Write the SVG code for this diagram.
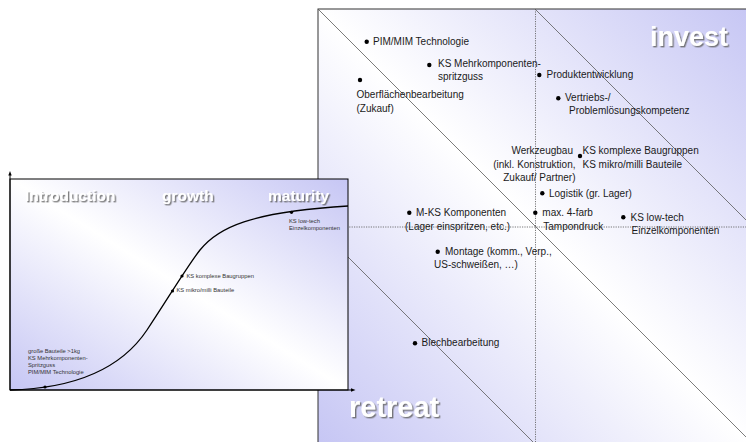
<svg xmlns="http://www.w3.org/2000/svg" width="746" height="442" viewBox="0 0 746 442">
<defs>
<linearGradient id="gR" x1="1" y1="0" x2="0" y2="1">
<stop offset="0" stop-color="#c6c6f4"/>
<stop offset="0.5" stop-color="#ffffff"/>
<stop offset="1" stop-color="#c6c6f4"/>
</linearGradient>
<linearGradient id="gL" x1="1" y1="0" x2="0" y2="1">
<stop offset="0" stop-color="#c6c6f4"/>
<stop offset="0.5" stop-color="#ffffff"/>
<stop offset="1" stop-color="#c6c6f4"/>
</linearGradient>
<filter id="sh" x="-10%" y="-30%" width="130%" height="170%">
<feDropShadow dx="1.4" dy="1.4" stdDeviation="0.6" flood-color="#666666" flood-opacity="0.85"/>
</filter>
<style>
.t{font-family:"Liberation Sans",Arial,sans-serif;font-size:10px;fill:#1a1a1a}
.s{font-family:"Liberation Sans",Arial,sans-serif;font-size:5.8px;fill:#333}
.big{font-family:"Liberation Sans",Arial,sans-serif;font-weight:bold;fill:#ffffff;filter:url(#sh)}
.dot{fill:#000}
.diag{stroke:#5a5a5a;stroke-width:0.8;fill:none}
.dotted{stroke:#555;stroke-width:0.8;stroke-dasharray:1.2,1.2;fill:none}
</style>
</defs>

<g id="portfolio">
<rect x="318" y="9" width="434" height="435" fill="url(#gR)" stroke="#333" stroke-width="1"/>
</g>

<g id="connectors">
<line class="dotted" x1="535.5" y1="9" x2="535.5" y2="442"/>
<line class="dotted" x1="318" y1="227" x2="746" y2="227"/>
<line class="diag" x1="318" y1="9" x2="752" y2="443"/>
<line class="diag" x1="535" y1="9" x2="752" y2="226"/>
<line class="diag" x1="318" y1="227" x2="535" y2="444"/>
</g>

<g id="label-invest"><text class="big" x="650" y="46" font-size="27">invest</text></g>
<g id="label-retreat"><text class="big" x="349" y="417" font-size="29">retreat</text></g>

<g id="n-pim"><circle class="dot" cx="366.7" cy="41.7" r="2.2"/><text class="t" x="373" y="45">PIM/MIM Technologie</text></g>
<g id="n-mehrkomp"><circle class="dot" cx="429.3" cy="65" r="2.2"/><text class="t" x="438" y="66.5">KS Mehrkomponenten-</text><text class="t" x="438" y="80">spritzguss</text></g>
<g id="n-oberfl"><circle class="dot" cx="360" cy="80" r="2.2"/><text class="t" x="356.5" y="98">Oberflächenbearbeitung</text><text class="t" x="356.5" y="111.5">(Zukauf)</text></g>
<g id="n-produkt"><circle class="dot" cx="539.3" cy="75" r="2.2"/><text class="t" x="546.5" y="78">Produktentwicklung</text></g>
<g id="n-vertrieb"><circle class="dot" cx="558.3" cy="98.3" r="2.2"/><text class="t" x="565" y="101">Vertriebs-/</text><text class="t" x="569" y="114">Problemlösungskompetenz</text></g>
<g id="n-werkzeug"><text class="t" x="573" y="154" text-anchor="end">Werkzeugbau</text><text class="t" x="575.5" y="167.5" text-anchor="end">(inkl. Konstruktion,</text><text class="t" x="575.5" y="180.5" text-anchor="end">Zukauf/ Partner)</text></g>
<g id="n-komplex"><circle class="dot" cx="580" cy="156" r="2.2"/><text class="t" x="582.5" y="153.5">KS komplexe Baugruppen</text><text class="t" x="582.5" y="167.5">KS mikro/milli Bauteile</text></g>
<g id="n-logistik"><circle class="dot" cx="542.3" cy="193.3" r="2.2"/><text class="t" x="549" y="196.5">Logistik (gr. Lager)</text></g>
<g id="n-mks"><circle class="dot" cx="409.3" cy="212.7" r="2.2"/><text class="t" x="416" y="216">M-KS Komponenten</text><text class="t" x="405" y="229.5">(Lager einspritzen, etc.)</text></g>
<g id="n-tampon"><circle class="dot" cx="535.3" cy="212.7" r="2.2"/><text class="t" x="542.3" y="216">max. 4-farb</text><text class="t" x="543.3" y="229.5">Tampondruck</text></g>
<g id="n-lowtech"><circle class="dot" cx="623.3" cy="217.3" r="2.2"/><text class="t" x="630.5" y="220.5">KS low-tech</text><text class="t" x="631.5" y="234">Einzelkomponenten</text></g>
<g id="n-montage"><circle class="dot" cx="437.7" cy="251.7" r="2.2"/><text class="t" x="445" y="254.5">Montage (komm., Verp.,</text><text class="t" x="434" y="267.5">US-schweißen, …)</text></g>
<g id="n-blech"><circle class="dot" cx="415" cy="343.3" r="2.2"/><text class="t" x="421.5" y="346">Blechbearbeitung</text></g>

<g id="lifecycle">
<rect x="10" y="179" width="338" height="211" fill="url(#gL)" stroke="#000" stroke-width="1"/>
<line x1="10" y1="390" x2="10" y2="174" stroke="#000" stroke-width="1"/>
<polygon points="10,171 8.3,175.5 11.7,175.5" fill="#000"/>
<line x1="10" y1="390" x2="352" y2="390" stroke="#000" stroke-width="1"/>
<polygon points="355.5,390 351,388.3 351,391.7" fill="#000"/>
<text class="big" x="25" y="201" font-size="15.5">Introduction</text>
<text class="big" x="162" y="201" font-size="15.5">growth</text>
<text class="big" x="268" y="201" font-size="15.5">maturity</text>
<path d="M10,390 C90,388 127,360 147,330 C167,300 188,265 200,250 C218,227.5 250,212 348,206" fill="none" stroke="#000" stroke-width="1.3"/>
</g>

<g id="lc-lowtech"><circle class="dot" cx="291.5" cy="212.3" r="1.6"/><text class="s" x="289" y="223">KS low-tech</text><text class="s" x="289" y="230">Einzelkomponenten</text></g>
<g id="lc-komplex"><circle class="dot" cx="182" cy="276" r="1.6"/><text class="s" x="186.5" y="278">KS komplexe Baugruppen</text></g>
<g id="lc-mikro"><circle class="dot" cx="172.5" cy="291" r="1.6"/><text class="s" x="176.5" y="292">KS mikro/milli Bauteile</text></g>
<g id="lc-intro"><circle class="dot" cx="45" cy="387" r="1.6"/><text class="s" x="28" y="353">große Bauteile &gt;1kg</text><text class="s" x="28" y="360">KS Mehrkomponenten-</text><text class="s" x="28" y="367">Spritzguss</text><text class="s" x="28" y="374">PIM/MIM Technologie</text></g>
</svg>
